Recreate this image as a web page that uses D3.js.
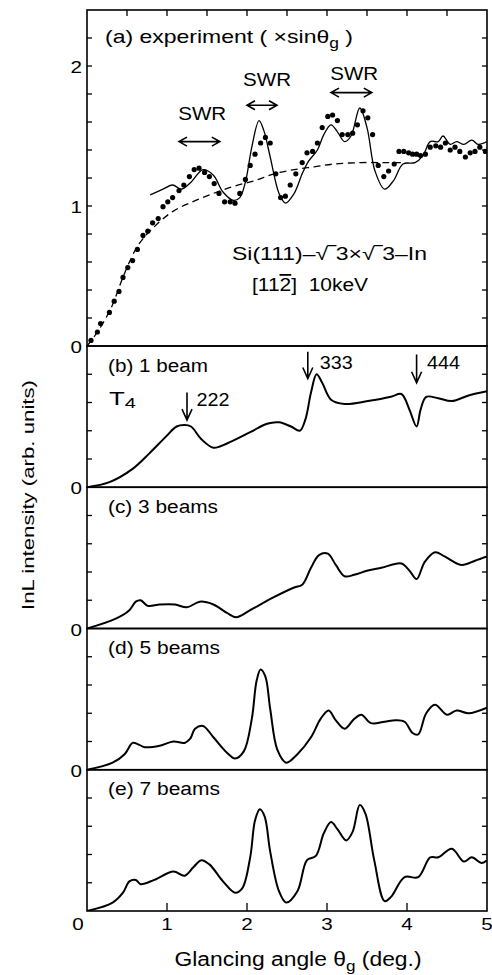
<!DOCTYPE html>
<html><head><meta charset="utf-8">
<script src="https://cdn.jsdelivr.net/npm/d3@7"></script>
<style>
body{margin:0;background:#fff;}
svg text{font-family:"Liberation Sans",Arial,sans-serif;fill:#000;}
</style></head>
<body><svg id="c" width="492" height="975"></svg>
<script>
// ---------- data ----------
const xTicks = [0,1,2,3,4,5];
const xMinorTicks = [0.5,1,1.5,2,2.5,3,3.5,4,4.5];
const yTicksA = [0.2,0.4,0.6,0.8,1,1.2,1.4,1.6,1.8,2,2.2];
const yLabelsA = [0,1,2];
const yTicksB = [0.2,0.4,0.6,0.8];

// (a) experiment dots
const expX = [0.05,0.13,0.17,0.28,0.34,0.40,0.45,0.51,0.57,0.63,0.70,0.76,0.82,0.89,0.95,1.01,1.07,1.15,1.21,1.28,1.34,1.40,1.47,1.53,1.59,1.65,1.72,1.79,1.85,1.91,1.98,2.04,2.10,2.17,2.23,2.29,2.36,2.42,2.48,2.54,2.61,2.69,2.75,2.82,2.88,2.94,3.01,3.07,3.13,3.19,3.26,3.32,3.38,3.45,3.51,3.57,3.64,3.71,3.77,3.84,3.90,3.96,4.02,4.07,4.12,4.17,4.23,4.29,4.36,4.42,4.48,4.54,4.60,4.66,4.73,4.79,4.85,4.91,4.98];
const expY = [0.04,0.10,0.16,0.24,0.32,0.39,0.49,0.56,0.61,0.69,0.79,0.82,0.88,0.91,0.995,1.03,1.06,1.11,1.15,1.21,1.26,1.27,1.24,1.21,1.16,1.09,1.03,1.03,1.02,1.09,1.19,1.29,1.37,1.45,1.49,1.45,1.23,1.06,1.07,1.15,1.23,1.31,1.38,1.39,1.45,1.56,1.64,1.65,1.61,1.51,1.51,1.52,1.58,1.68,1.63,1.51,1.29,1.21,1.25,1.30,1.39,1.39,1.38,1.37,1.37,1.36,1.37,1.42,1.43,1.42,1.45,1.40,1.42,1.39,1.35,1.38,1.39,1.42,1.39];
// (a) calculation (solid)
const calcX = [0.79,0.95,1.07,1.18,1.30,1.45,1.58,1.70,1.83,1.91,1.98,2.06,2.15,2.21,2.29,2.40,2.48,2.59,2.69,2.77,2.88,2.96,3.05,3.13,3.22,3.30,3.41,3.50,3.60,3.72,3.83,3.95,4.10,4.20,4.29,4.39,4.45,4.54,4.62,4.71,4.81,4.89,5.0];
const calcY = [1.08,1.12,1.15,1.12,1.17,1.26,1.22,1.10,1.04,1.06,1.17,1.42,1.61,1.54,1.35,1.09,1.02,1.09,1.23,1.32,1.40,1.51,1.58,1.53,1.46,1.50,1.70,1.56,1.25,1.12,1.18,1.30,1.31,1.36,1.46,1.46,1.50,1.44,1.46,1.44,1.47,1.44,1.46];
// (a) background (dashed)
const bgX = [0.0,0.13,0.30,0.47,0.64,0.82,1.07,1.32,1.58,1.83,2.09,2.34,2.59,2.84,3.09,3.43,3.72,3.95];
const bgY = [0.0,0.10,0.27,0.52,0.72,0.84,0.96,1.03,1.09,1.14,1.18,1.23,1.26,1.28,1.30,1.31,1.31,1.31];

// (b) 1 beam
const b1X = [0,0.28,0.57,0.78,0.99,1.12,1.22,1.30,1.43,1.58,1.75,2.04,2.25,2.40,2.55,2.66,2.73,2.80,2.87,2.94,3.05,3.22,3.51,3.80,3.93,4.03,4.12,4.17,4.24,4.39,4.56,4.77,5.0];
const b1Y = [0,0.036,0.13,0.24,0.36,0.43,0.44,0.43,0.34,0.28,0.31,0.39,0.45,0.46,0.43,0.40,0.48,0.67,0.80,0.74,0.62,0.59,0.61,0.64,0.66,0.55,0.43,0.55,0.64,0.63,0.61,0.65,0.68];
// (c) 3 beams
const b3X = [0,0.36,0.53,0.61,0.67,0.76,0.91,1.10,1.25,1.41,1.58,1.75,1.87,2.04,2.33,2.59,2.69,2.80,2.90,3.01,3.11,3.22,3.34,3.51,3.68,3.93,4.03,4.12,4.22,4.35,4.47,4.68,4.85,5.0];
const b3Y = [0,0.07,0.13,0.19,0.20,0.16,0.17,0.17,0.15,0.19,0.17,0.11,0.08,0.13,0.22,0.29,0.31,0.43,0.52,0.53,0.45,0.37,0.38,0.41,0.43,0.46,0.41,0.35,0.47,0.54,0.51,0.45,0.48,0.51];
// (d) 5 beams
const b5X = [0,0.32,0.47,0.57,0.64,0.72,0.91,1.08,1.22,1.29,1.35,1.45,1.58,1.75,1.85,1.96,2.06,2.12,2.17,2.23,2.29,2.38,2.49,2.63,2.80,2.92,3.02,3.11,3.22,3.34,3.43,3.55,3.72,3.86,3.97,4.07,4.14,4.24,4.35,4.50,4.62,4.77,5.0];
const b5Y = [0,0.05,0.11,0.19,0.18,0.16,0.17,0.20,0.19,0.22,0.29,0.31,0.23,0.12,0.08,0.13,0.36,0.63,0.71,0.66,0.43,0.14,0.05,0.11,0.23,0.36,0.42,0.35,0.29,0.36,0.39,0.33,0.34,0.35,0.34,0.26,0.25,0.40,0.46,0.39,0.42,0.40,0.44];
// (e) 7 beams
const b7X = [0,0.32,0.45,0.53,0.61,0.67,0.84,1.08,1.22,1.33,1.43,1.53,1.70,1.85,1.94,2.04,2.10,2.16,2.22,2.29,2.40,2.49,2.63,2.75,2.86,2.96,3.05,3.13,3.24,3.32,3.41,3.48,3.59,3.72,3.80,3.97,4.14,4.29,4.39,4.56,4.71,4.81,4.93,5.0];
const b7Y = [0,0.06,0.13,0.21,0.22,0.19,0.22,0.28,0.25,0.31,0.36,0.33,0.21,0.13,0.16,0.38,0.64,0.72,0.67,0.42,0.14,0.06,0.14,0.36,0.39,0.55,0.63,0.58,0.50,0.56,0.75,0.69,0.36,0.07,0.10,0.24,0.24,0.38,0.38,0.44,0.35,0.38,0.34,0.36];

// ---------- layout ----------
const svg = d3.select("#c");
const L = 87, R = 487;
const x = d3.scaleLinear().domain([0,5]).range([L,R]);
const panels = [
  {top:10, bot:346, dom:[0,2.4], ticks:yTicksA},
  {top:346, bot:487.25, dom:[0,1], ticks:yTicksB, xs:b1X, ys:b1Y, label:"(b) 1 beam", lw:100},
  {top:487.25, bot:628.5, dom:[0,1], ticks:yTicksB, xs:b3X, ys:b3Y, label:"(c) 3 beams", lw:110},
  {top:628.5, bot:769.75, dom:[0,1], ticks:yTicksB, xs:b5X, ys:b5Y, label:"(d) 5 beams", lw:112},
  {top:769.75, bot:911, dom:[0,1], ticks:yTicksB, xs:b7X, ys:b7Y, label:"(e) 7 beams", lw:112}
];
panels.forEach(p => p.y = d3.scaleLinear().domain(p.dom).range([p.bot,p.top]));
const ya = panels[0].y;

const curve = d3.curveCatmullRom.alpha(0.5);
function lineOf(xs, ys, y){
  return d3.line().x((d,i)=>x(xs[i])).y((d,i)=>y(ys[i])).curve(curve)(xs);
}
const g = svg.append("g");
function txt(px, py, size, len, anchor){
  const t = g.append("text").attr("x",px).attr("y",py).attr("font-size",size)
    .attr("text-anchor",anchor||"start");
  if (len) t.attr("textLength",len).attr("lengthAdjust","spacingAndGlyphs");
  return t;
}
function digit(px, py, s, anchor){
  g.append("text").attr("transform",`translate(${px},${py}) scale(1.25,1)`)
    .attr("font-size",16.5).attr("text-anchor",anchor).text(s);
}

svg.append("defs").append("clipPath").attr("id","clip")
  .append("rect").attr("x",L).attr("y",10).attr("width",R-L).attr("height",901);

// y ticks and labels
panels.forEach((p,i) => {
  p.ticks.forEach(t => {
    g.append("line").attr("x1",L).attr("x2",L+5).attr("y1",p.y(t)).attr("y2",p.y(t)).attr("stroke","#000").attr("stroke-width",1.3);
    g.append("line").attr("x1",R).attr("x2",R-5).attr("y1",p.y(t)).attr("y2",p.y(t)).attr("stroke","#000").attr("stroke-width",1.3);
  });
  // bottom panel's zero is shared with the x-axis "0"
  if (i < panels.length-1) digit(82, p.y(0)+7, "0", "end");
});
yLabelsA.filter(v=>v>0).forEach(v => digit(82, ya(v)+6.5, String(v), "end"));
// top x ticks
xMinorTicks.forEach(v => {
  g.append("line").attr("x1",x(v)).attr("x2",x(v)).attr("y1",10).attr("y2",16).attr("stroke","#000").attr("stroke-width",1.3);
});
// bottom x ticks + labels
xTicks.forEach(v => {
  if (v>0 && v<5) g.append("line").attr("x1",x(v)).attr("x2",x(v)).attr("y1",911).attr("y2",903).attr("stroke","#000").attr("stroke-width",1.3);
  digit(v===0?x(v)-9:x(v), 930, String(v), "middle");
});

// frames
panels.forEach(p => {
  g.append("rect").attr("x",L).attr("y",p.top).attr("width",R-L).attr("height",p.bot-p.top)
    .attr("fill","none").attr("stroke","#000").attr("stroke-width",1.6);
});

// panel a marks
const pa = g.append("g").attr("clip-path","url(#clip)");
pa.append("path").attr("d",lineOf(bgX,bgY,ya)).attr("fill","none").attr("stroke","#000").attr("stroke-width",1.3).attr("stroke-dasharray","7,4.5");
pa.append("path").attr("d",lineOf(calcX,calcY,ya)).attr("fill","none").attr("stroke","#000").attr("stroke-width",1.3);
pa.selectAll("circle.exp").data(expX).enter().append("circle")
  .attr("cx",(d,i)=>x(expX[i])).attr("cy",(d,i)=>ya(expY[i])).attr("r",2.6).attr("fill","#000");

// panels b-e curves
panels.slice(1).forEach(p => {
  pa.append("path").attr("d",lineOf(p.xs,p.ys,p.y)).attr("fill","none").attr("stroke","#000").attr("stroke-width",2);
  txt(108, p.top+25.5, 18, p.lw).text(p.label);
});

// panel a texts
const ta = txt(105, 43, 18.5, 248);
ta.append("tspan").text("(a) experiment ( ");
ta.append("tspan").text("\u00D7");
ta.append("tspan").text("sin\u03B8");
ta.append("tspan").attr("font-size",14).attr("dy",5).text("g");
ta.append("tspan").attr("dy",-5).text(" )");

const t1 = txt(232, 260, 18, 195);
t1.text("Si(111)\u2013\u221A\u203E3\u00D7\u221A\u203E3\u2013In");
const t2 = txt(252, 291, 18, 116).attr("style","white-space:pre");
t2.append("tspan").text("[11");
t2.append("tspan").attr("text-decoration","overline").text("2");
t2.append("tspan").text("]  10keV");

// SWR annotations (data coords of panel a)
const swr = [
  {x0:1.15, x1:1.66, y:1.46, tx:1.44, ty:1.615},
  {x0:2.00, x1:2.375, y:1.72, tx:2.25, ty:1.855},
  {x0:3.05, x1:3.56, y:1.81, tx:3.34, ty:1.90}
];
swr.forEach(s => {
  const X0=x(s.x0), X1=x(s.x1), Y=ya(s.y);
  g.append("path").attr("d",`M${X0},${Y}H${X1}M${X0+8},${Y-4.5}L${X0},${Y}L${X0+8},${Y+4.5}M${X1-8},${Y-4.5}L${X1},${Y}L${X1-8},${Y+4.5}`)
    .attr("fill","none").attr("stroke","#000").attr("stroke-width",1.6);
  txt(x(s.tx), ya(s.ty), 19, 48, "middle").text("SWR");
});

// panel b annotations
const pb = panels[1];
const tT = txt(109, 405, 18, 27);
tT.append("tspan").text("T");
tT.append("tspan").attr("font-size",14).attr("dy",3).text("4");
const peaks = [
  {x:1.25, y0:0.67, y1:0.475, tx:1.37, ty:0.575, t:"222"},
  {x:2.76, y0:0.96, y1:0.77, tx:2.91, ty:0.84, t:"333"},
  {x:4.12, y0:0.94, y1:0.74, tx:4.25, ty:0.84, t:"444"}
];
peaks.forEach(a => {
  const X=x(a.x), Y0=pb.y(a.y0), Y1=pb.y(a.y1);
  g.append("path").attr("d",`M${X},${Y0}V${Y1}M${X-5},${Y1-11}L${X},${Y1}L${X+5},${Y1-11}`)
    .attr("fill","none").attr("stroke","#000").attr("stroke-width",1.6);
  txt(x(a.tx), pb.y(a.ty), 18, 33).text(a.t);
});

// axis titles
const xt = txt(298, 966, 20, 247, "middle");
xt.append("tspan").text("Glancing angle \u03B8");
xt.append("tspan").attr("font-size",15).attr("dy",5).text("g");
xt.append("tspan").attr("dy",-5).text(" (deg.)");
g.append("text").attr("transform","translate(34,495) rotate(-90)").attr("text-anchor","middle")
  .attr("font-size",17).attr("textLength",230).attr("lengthAdjust","spacingAndGlyphs")
  .text("InL intensity (arb. units)");
</script></body></html>
